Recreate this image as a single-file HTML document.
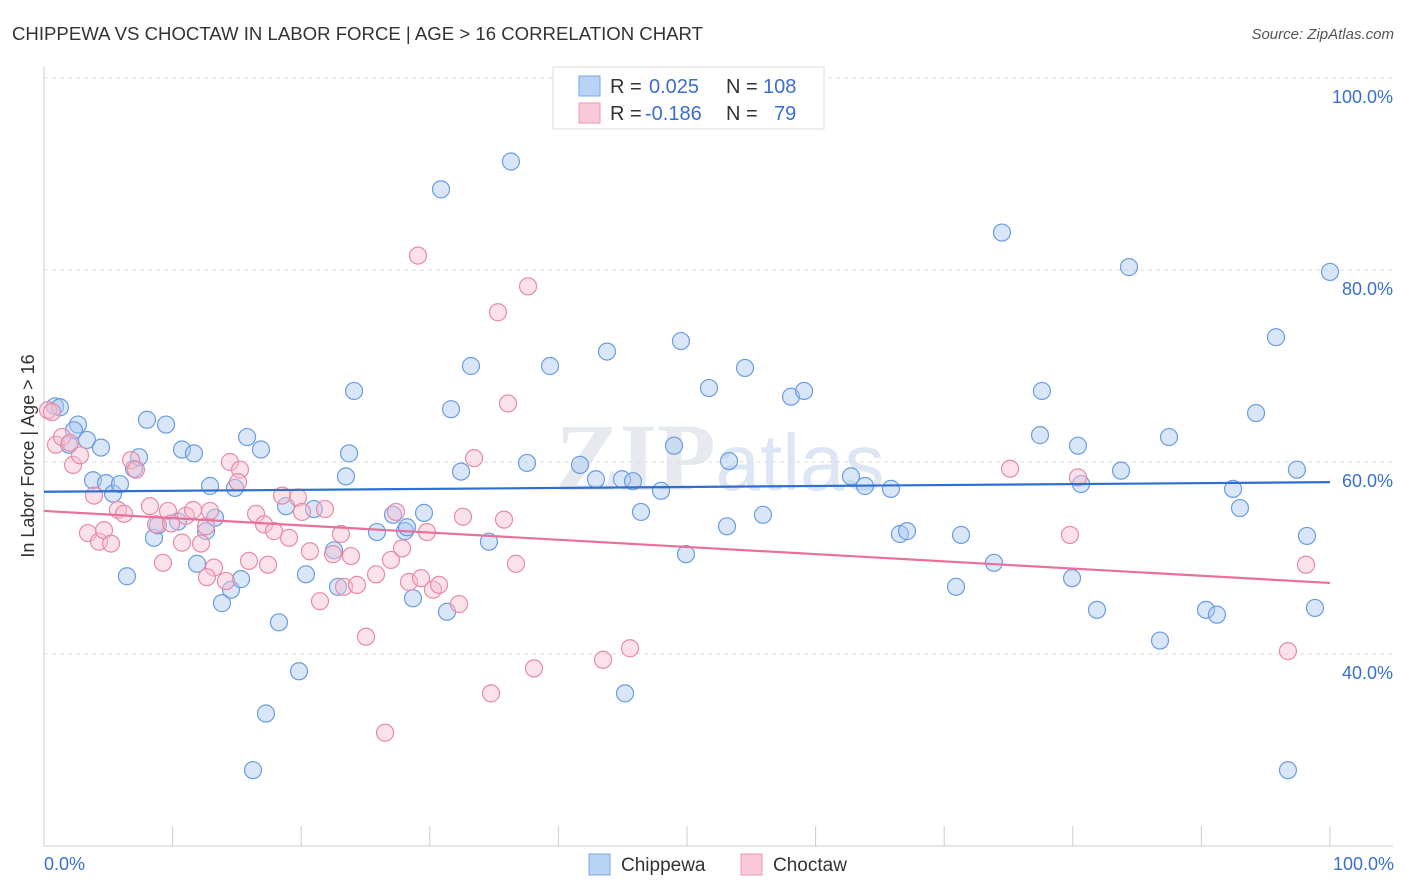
<!DOCTYPE html>
<html><head><meta charset="utf-8"><style>
body{margin:0;background:#fff;font-family:"Liberation Sans",sans-serif;}
svg{display:block}
</style></head><body>
<svg id="chart" width="1406" height="892" xmlns="http://www.w3.org/2000/svg">
<text x="12" y="40" font-size="18" fill="#333" textLength="691" lengthAdjust="spacingAndGlyphs">CHIPPEWA VS CHOCTAW IN LABOR FORCE | AGE &gt; 16 CORRELATION CHART</text>
<text x="1394" y="39" font-size="15" fill="#555" font-style="italic" text-anchor="end">Source: ZipAtlas.com</text>
<text x="720" y="490" font-size="96" fill="#e6e9ee" text-anchor="middle" font-family="Liberation Serif,serif" font-weight="bold">ZIP<tspan fill="#dce6f4" font-family="Liberation Sans,sans-serif" font-weight="normal" font-size="80">atlas</tspan></text>
<g id="grid"></g>
<g id="axes"></g>
<g id="points"></g>
<g id="trends"></g>
<text x="34" y="456" font-size="18" fill="#333" text-anchor="middle" transform="rotate(-90 34 456)">In Labor Force | Age &gt; 16</text>
<text x="44" y="870" font-size="18" fill="#3a6fd0">0.0%</text>
<text x="1394" y="870" font-size="18" fill="#3a6fd0" text-anchor="end">100.0%</text>
<g>
<rect x="553" y="67" width="271" height="62" fill="#fff" stroke="#ddd"/>
<rect x="579" y="76" width="21" height="20" fill="#b9d3f5" stroke="#7aa6e6"/>
<rect x="579" y="103" width="21" height="20" fill="#f9c9d7" stroke="#e99ab3"/>
<text x="610" y="93" font-size="20" fill="#333">R = </text><text x="649" y="93" font-size="20" fill="#3a6fd0">0.025</text>
<text x="726" y="93" font-size="20" fill="#333">N = </text><text x="763" y="93" font-size="20" fill="#3a6fd0">108</text>
<text x="610" y="120" font-size="20" fill="#333">R = </text><text x="645" y="120" font-size="20" fill="#3a6fd0">-0.186</text>
<text x="726" y="120" font-size="20" fill="#333">N = </text><text x="774" y="120" font-size="20" fill="#3a6fd0">79</text>
</g>
<g>
<rect x="589" y="854" width="21" height="21" fill="#b9d3f5" stroke="#7aa6e6"/>
<text x="621" y="871" font-size="19" fill="#333">Chippewa</text>
<rect x="741" y="854" width="21" height="21" fill="#f9c9d7" stroke="#e99ab3"/>
<text x="773" y="871" font-size="19" fill="#333">Choctaw</text>
</g>
</svg>
<script>
const blueX=[0.86,1.24,2.64,2.33,3.34,1.94,4.43,3.81,4.82,5.37,5.91,7.0,7.39,8.01,9.49,10.73,11.66,12.91,14.85,15.79,16.87,8.55,8.86,10.42,11.9,12.6,13.3,13.84,14.54,15.32,6.45,17.26,16.25,18.27,19.83,18.82,20.37,20.99,22.55,22.86,23.48,23.72,24.11,25.89,27.14,28.07,28.23,28.69,29.55,31.34,31.65,32.43,33.2,34.6,30.87,36.31,37.56,39.35,41.68,42.92,43.78,44.95,45.8,46.42,45.18,47.98,48.99,49.53,49.92,51.71,53.11,53.27,54.51,55.91,58.09,59.1,62.75,63.84,65.86,66.56,67.11,70.92,71.31,73.87,74.49,77.45,77.6,79.94,80.4,80.64,81.88,83.75,84.37,86.78,87.48,90.36,91.21,92.46,93.0,94.25,95.8,97.43,98.21,98.83,96.73,100.0];
const blueY=[65.8,65.7,63.9,63.3,62.3,61.8,61.5,58.1,57.8,56.7,57.7,59.3,60.5,64.4,63.9,61.3,60.9,57.5,57.3,62.6,61.3,52.1,53.4,53.8,49.4,52.8,54.2,45.3,46.7,47.8,48.1,33.8,27.9,43.3,38.2,55.4,48.3,55.1,50.8,47.0,58.5,60.9,67.4,52.7,54.5,52.8,53.2,45.8,54.7,44.4,65.5,59.0,70.0,51.7,88.4,91.3,59.9,70.0,59.7,58.2,71.5,58.2,58.0,54.8,35.9,57.0,61.7,72.6,50.4,67.7,53.3,60.1,69.8,54.5,66.8,67.4,58.5,57.5,57.2,52.5,52.8,47.0,52.4,49.5,83.9,62.8,67.4,47.9,61.7,57.7,44.6,59.1,80.3,41.4,62.6,44.6,44.1,57.2,55.2,65.1,73.0,59.2,52.3,44.8,27.9,79.8];
const pinkX=[0.31,0.62,0.93,1.4,2.02,2.26,2.8,3.42,3.89,4.28,4.67,5.21,5.75,6.22,6.77,7.15,8.24,8.71,9.25,9.64,9.88,10.73,11.04,11.59,12.21,12.6,12.91,13.22,12.67,14.15,14.46,15.24,15.09,15.94,16.49,17.11,17.42,17.88,18.51,19.05,19.75,20.06,20.68,21.46,21.85,22.47,23.09,23.33,23.87,24.34,25.04,25.82,26.52,26.98,27.37,27.84,28.38,29.32,30.25,30.72,29.78,29.08,32.27,32.58,33.44,34.76,35.3,35.77,36.08,36.7,37.64,38.1,43.47,45.57,75.12,80.4,79.78,96.73,98.13];
const pinkY=[65.4,65.2,61.8,62.6,62.0,59.7,60.7,52.6,56.5,51.7,52.9,51.5,55.0,54.6,60.2,59.2,55.4,53.5,49.5,54.9,53.6,51.6,54.4,55.0,51.5,53.3,54.9,49.0,48.0,47.6,60.0,59.2,57.9,49.7,54.6,53.5,49.3,52.8,56.5,52.1,56.3,54.8,50.7,45.5,55.1,50.4,52.5,47.0,50.2,47.2,41.8,48.3,31.8,49.8,54.8,51.0,47.5,47.9,46.7,47.2,52.7,81.5,45.2,54.3,60.4,35.9,75.6,54.0,66.1,49.4,78.3,38.5,39.4,40.6,59.3,58.4,52.4,40.3,49.3];
const blueTrend=[56.9,57.9];
const pinkTrend=[54.9,47.4];
const yTicks=[100,80,60,40];
const yTickLabels=["100.0%","80.0%","60.0%","40.0%"];
const xTicks=[0,10,20,30,40,50,60,70,80,90,100];

const NS="http://www.w3.org/2000/svg";
const xs=v=>44+v*12.86;
const ys=v=>78+(100-v)*9.6;
function mk(tag,attrs,parent){const e=document.createElementNS(NS,tag);for(const k in attrs)e.setAttribute(k,attrs[k]);parent.appendChild(e);return e;}
const grid=document.getElementById('grid'),axes=document.getElementById('axes'),pts=document.getElementById('points'),tr=document.getElementById('trends');
yTicks.forEach((t,i)=>{
  const l=mk('line',{x1:44,x2:1393,y1:ys(t),y2:ys(t),stroke:'#ddd','stroke-dasharray':'4 4'},grid);
  
  
  const tx=mk('text',{x:1393,y:ys(t)+25,'font-size':18,fill:'#3a6fd0','text-anchor':'end'},grid);
  tx.textContent=yTickLabels[i];
  
  
});
const ya=mk('line',{x1:44,x2:44,y1:67,y2:846,stroke:'#ccc'},axes);


const xa=mk('line',{x1:44,x2:1393,y1:846,y2:846,stroke:'#ccc'},axes);


xTicks.forEach(t=>{
  const l=mk('line',{x1:xs(t),x2:xs(t),y1:826,y2:846,stroke:'#ccc'},axes);
  
  
});
function dots(X,Y,fill,stroke,name){
  X.forEach((x,i)=>{
    const c=mk('circle',{cx:xs(x),cy:ys(Y[i]),r:8.5,fill:fill,'fill-opacity':0.45,stroke:stroke,'stroke-width':1.2},pts);
    
    
  });
}
dots(blueX,blueY,'#a9c8f0','#6a9de0','chippewa-point');
dots(pinkX,pinkY,'#f7bfd0','#e88aa8','choctaw-point');
const bl=mk('line',{x1:xs(0),x2:xs(100),y1:ys(blueTrend[0]),y2:ys(blueTrend[1]),stroke:'#2f6fd0','stroke-width':2.2},tr);


const pl=mk('line',{x1:xs(0),x2:xs(100),y1:ys(pinkTrend[0]),y2:ys(pinkTrend[1]),stroke:'#e8709a','stroke-width':2.2},tr);


</script>
</body></html>
